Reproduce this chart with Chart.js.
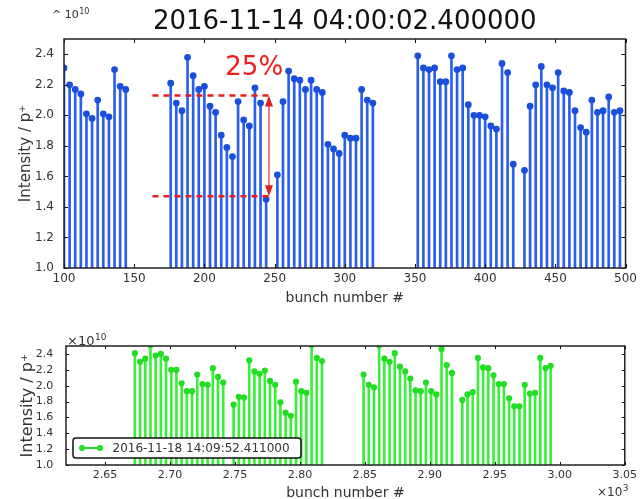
<!DOCTYPE html>
<html>
<head>
<meta charset="utf-8">
<script src="https://cdn.jsdelivr.net/npm/chart.js@4/dist/chart.umd.min.js"></script>
<style>
  html, body { margin: 0; padding: 0; background: #fff; overflow: hidden; width: 641px; height: 499px; }
  canvas { position: absolute; left: 0; }
  #top { top: 0; }
  #bot { top: 310px; }
</style>
</head>
<body>
<canvas id="top" width="641" height="310"></canvas>
<canvas id="bot" width="641" height="200"></canvas>
<script>
// ---------- DATA (intensity in units of 1e10 p+) ----------
const topTitle = '2016-11-14 04:00:02.400000';
const topBunches = [100,104,108,112,116,120,124,128,132,136,140,144,
  176,180,184,188,192,196,200,204,208,212,216,220,224,228,232,236,240,244,
  252,256,260,264,268,272,276,280,284,288,292,296,300,304,308,312,316,320,
  352,356,360,364,368,372,376,380,384,388,392,396,400,404,408,412,416,420,
  428,432,436,440,444,448,452,456,460,464,468,472,476,480,484,488,492,496];
const topIntensity = [2.31,2.20,2.17,2.14,2.01,1.98,2.10,2.01,1.99,2.30,2.19,2.17,
  2.21,2.08,2.03,2.38,2.26,2.17,2.19,2.06,2.02,1.87,1.79,1.73,2.09,1.97,1.93,2.18,2.08,1.45,
  1.61,2.09,2.29,2.24,2.23,2.17,2.23,2.17,2.15,1.81,1.78,1.75,1.87,1.85,1.85,2.17,2.10,2.08,
  2.39,2.31,2.30,2.31,2.22,2.22,2.39,2.30,2.31,2.07,2.00,2.00,1.99,1.93,1.91,2.34,2.28,1.68,
  1.64,2.06,2.20,2.32,2.20,2.18,2.28,2.16,2.15,2.03,1.92,1.89,2.10,2.02,2.03,2.12,2.02,2.03];
const topXTicks = [100,150,200,250,300,350,400,450,500];
const yTicks = [1.0,1.2,1.4,1.6,1.8,2.0,2.2,2.4];

// annotation (data space): dashed levels and the drop label
const annoLevels = [2.13, 1.47];
const annoXRange = [163, 247.5];
const annoArrowX = 246;
const annoText = '25%';
const annoTextPos = [235.5, 2.31];

const botLabel = '2016-11-18 14:09:52.411000';
const botBunches = [2673,2677,2681,2685,2689,2693,2697,2701,2705,2709,2713,2717,2721,2725,2729,2733,2737,2741,
  2749,2753,2757,2761,2765,2769,2773,2777,2781,2785,2789,2793,2797,2801,2805,2809,2813,2817,
  2849,2853,2857,2861,2865,2869,2873,2877,2881,2885,2889,2893,2897,2901,2905,2909,2913,2917,
  2925,2929,2933,2937,2941,2945,2949,2953,2957,2961,2965,2969,2973,2977,2981,2985,2989,2993];
const botIntensity = [2.41,2.30,2.34,2.51,2.38,2.40,2.34,2.20,2.20,2.03,1.93,1.93,2.14,2.02,2.01,2.22,2.11,2.04,
  1.76,1.86,1.85,2.32,2.18,2.15,2.19,2.06,2.01,1.79,1.66,1.62,2.05,1.93,1.91,2.51,2.35,2.31,
  2.14,2.01,1.98,2.51,2.34,2.30,2.41,2.24,2.18,2.09,1.94,1.93,2.04,1.93,1.89,2.46,2.26,2.16,
  1.82,1.89,1.92,2.35,2.23,2.22,2.13,2.02,2.02,1.84,1.74,1.74,2.01,1.90,1.91,2.35,2.22,2.25];
const botXTicks = [2650,2700,2750,2800,2850,2900,2950,3000,3050];

// ---------- helpers ----------
const FONT = "'DejaVu Sans', Verdana, sans-serif";
const pts = (xs, ys) => xs.map((x, i) => ({x: x, y: ys[i]}));

const frameTicks = {
  id: 'frameTicks',
  afterDatasetsDraw(chart, args, o) {
    const {ctx, chartArea: a, scales: {x, y}} = chart;
    ctx.save();
    ctx.strokeStyle = '#111';
    ctx.lineWidth = 1;
    ctx.beginPath();
    x.ticks.forEach(t => {
      const px = Math.round(x.getPixelForValue(t.value)) + 0.5;
      ctx.moveTo(px, a.bottom); ctx.lineTo(px, a.bottom - o.len);
      ctx.moveTo(px, a.top); ctx.lineTo(px, a.top + o.len);
    });
    y.ticks.forEach(t => {
      const py = Math.round(y.getPixelForValue(t.value)) + 0.5;
      ctx.moveTo(a.left, py); ctx.lineTo(a.left + o.len, py);
      ctx.moveTo(a.right, py); ctx.lineTo(a.right - o.len, py);
    });
    ctx.stroke();
    ctx.lineWidth = 1.5;
    ctx.strokeStyle = '#222';
    ctx.strokeRect(a.left, a.top, a.right - a.left, a.bottom - a.top);
    ctx.restore();
  }
};

function drawMultiplier(ctx, x, y, prefix, exp, size) {
  ctx.save();
  ctx.fillStyle = '#333';
  ctx.textBaseline = 'alphabetic';
  ctx.textAlign = 'left';
  ctx.font = size + 'px ' + FONT;
  ctx.fillText(prefix, x, y);
  const w = ctx.measureText(prefix).width;
  ctx.font = Math.round(size * 0.72) + 'px ' + FONT;
  ctx.fillText(exp, x + w + 0.5, y - size * 0.38);
  ctx.restore();
}

function scaleBase(ticksArr, fmt, size, pad) {
  return {
    type: 'linear',
    offset: false,
    grid: { display: false, drawTicks: false, tickLength: 0, offset: false },
    border: { display: false },
    afterBuildTicks: s => { s.ticks = ticksArr.map(v => ({value: v})); },
    ticks: { font: { family: FONT, size: size }, color: '#333', padding: pad, autoSkip: false, maxRotation: 0, callback: fmt }
  };
}

// ---------- TOP CHART ----------
const topAnno = {
  id: 'topAnno',
  afterDatasetsDraw(chart) {
    const {ctx, scales: {x, y}} = chart;
    ctx.save();
    ctx.strokeStyle = '#ee1c1c';
    ctx.lineWidth = 2.6;
    ctx.setLineDash([6, 5]);
    annoLevels.forEach(v => {
      const py = y.getPixelForValue(v);
      ctx.beginPath();
      ctx.moveTo(x.getPixelForValue(annoXRange[0]), py);
      ctx.lineTo(x.getPixelForValue(annoXRange[1]), py);
      ctx.stroke();
    });
    ctx.setLineDash([]);
    const ax = x.getPixelForValue(annoArrowX);
    const y1 = y.getPixelForValue(annoLevels[0]);
    const y2 = y.getPixelForValue(annoLevels[1]);
    ctx.strokeStyle = '#e43a3a';
    ctx.fillStyle = '#e02020';
    ctx.lineWidth = 1.3;
    ctx.beginPath(); ctx.moveTo(ax, y1 + 8); ctx.lineTo(ax, y2 - 8); ctx.stroke();
    ctx.beginPath(); ctx.moveTo(ax, y1); ctx.lineTo(ax - 4, y1 + 11); ctx.lineTo(ax + 4, y1 + 11); ctx.closePath(); ctx.fill();
    ctx.beginPath(); ctx.moveTo(ax, y2); ctx.lineTo(ax - 4, y2 - 11); ctx.lineTo(ax + 4, y2 - 11); ctx.closePath(); ctx.fill();
    ctx.font = '26px ' + FONT;
    ctx.fillStyle = '#ee1c1c';
    ctx.textAlign = 'center';
    ctx.textBaseline = 'middle';
    ctx.fillText(annoText, x.getPixelForValue(annoTextPos[0]), y.getPixelForValue(annoTextPos[1]));
    ctx.restore();
  },
  afterDraw(chart) {
    drawMultiplier(chart.ctx, 52, 18, '^ 10', '10', 11);
  }
};

const yTop = scaleBase(yTicks, v => v.toFixed(1), 12, 10);
Object.assign(yTop, { min: 1.0, max: 2.5, afterFit: s => { s.width = 64; },
  title: { display: true, text: 'Intensity / p\u207A', font: { family: FONT, size: 15 }, color: '#333', padding: { top: 16.7, bottom: 16.7 } } });
const xTop = scaleBase(topXTicks, v => String(v), 12, 4);
Object.assign(xTop, { min: 100, max: 500, afterFit: s => { s.height = 42; },
  title: { display: true, text: 'bunch number #', font: { family: FONT, size: 14 }, color: '#333', padding: { top: 0, bottom: 3.6 } } });

new Chart(document.getElementById('top'), {
  type: 'bar',
  data: {
    datasets: [
      { type: 'scatter', label: topTitle, data: pts(topBunches, topIntensity), backgroundColor: '#1a4fdc', borderColor: '#1a4fdc', pointRadius: 3.4, borderWidth: 0, order: 0 },
      { type: 'bar', label: 'stems', data: pts(topBunches, topIntensity), backgroundColor: '#2a5fec', barThickness: 2, borderWidth: 0, order: 1 }
    ]
  },
  options: {
    responsive: false, animation: false, devicePixelRatio: 1,
    layout: { padding: { left: 0, right: 10, top: 0, bottom: 0 } },
    plugins: {
      legend: { display: false }, tooltip: { enabled: false },
      title: { display: true, text: topTitle, fullSize: false, color: '#111', font: { family: FONT, size: 26, weight: 'normal', lineHeight: 1.2 }, padding: { top: 6.5, bottom: 1.3 } },
      frameTicks: { len: 4 }
    },
    scales: { x: xTop, y: yTop }
  },
  plugins: [frameTicks, topAnno]
});

// ---------- BOTTOM CHART ----------
const botDeco = {
  id: 'botDeco',
  afterDraw(chart) {
    const {ctx} = chart;
    drawMultiplier(ctx, 67, 35, '\u00D710', '10', 13);
    drawMultiplier(ctx, 597, 186, '\u00D710', '3', 12);
    const ds = chart.data.datasets[0];
    ctx.save();
    const bx = 73, by = 128, bw = 228, bh = 20;
    ctx.fillStyle = '#fff';
    ctx.strokeStyle = '#111';
    ctx.lineWidth = 1.5;
    ctx.beginPath();
    ctx.roundRect(bx, by, bw, bh, 3);
    ctx.fill(); ctx.stroke();
    const ly = by + bh / 2;
    ctx.strokeStyle = '#22dd22';
    ctx.fillStyle = '#22dd22';
    ctx.lineWidth = 2;
    ctx.beginPath(); ctx.moveTo(82, ly); ctx.lineTo(100, ly); ctx.stroke();
    [82, 100].forEach(px => { ctx.beginPath(); ctx.arc(px, ly, 3, 0, Math.PI * 2); ctx.fill(); });
    ctx.fillStyle = '#333';
    ctx.font = '12px ' + FONT;
    ctx.textAlign = 'left';
    ctx.textBaseline = 'middle';
    ctx.fillText(ds.label, 112.5, ly + 0.5);
    ctx.restore();
  }
};

const yBot = scaleBase(yTicks, v => v.toFixed(1), 11, 12.7);
Object.assign(yBot, { min: 1.0, max: 2.5, afterFit: s => { s.width = 66; },
  title: { display: true, text: 'Intensity / p\u207A', font: { family: FONT, size: 16 }, color: '#333', padding: { top: 18.4, bottom: 18.4 } } });
const xBot = scaleBase(botXTicks, v => (v / 1000).toFixed(2), 11, 4);
Object.assign(xBot, { min: 2620, max: 3050, afterFit: s => { s.height = 45; },
  title: { display: true, text: 'bunch number #', font: { family: FONT, size: 14 }, color: '#333', padding: { top: 0, bottom: 8.6 } } });

new Chart(document.getElementById('bot'), {
  type: 'bar',
  data: {
    datasets: [
      { type: 'scatter', label: botLabel, data: pts(botBunches, botIntensity), backgroundColor: '#22dd22', borderColor: '#22dd22', pointRadius: 3.1, borderWidth: 0, order: 0, clip: 0 },
      { type: 'bar', label: 'stems', data: pts(botBunches, botIntensity), backgroundColor: '#3cee3c', barThickness: 2, borderWidth: 0, order: 1, clip: 0 }
    ]
  },
  options: {
    responsive: false, animation: false, devicePixelRatio: 1,
    layout: { padding: { left: 0, right: 10, top: 36, bottom: 0 } },
    plugins: {
      legend: { display: false }, tooltip: { enabled: false },
      frameTicks: { len: 3 }
    },
    scales: { x: xBot, y: yBot }
  },
  plugins: [frameTicks, botDeco]
});
</script>
</body>
</html>
